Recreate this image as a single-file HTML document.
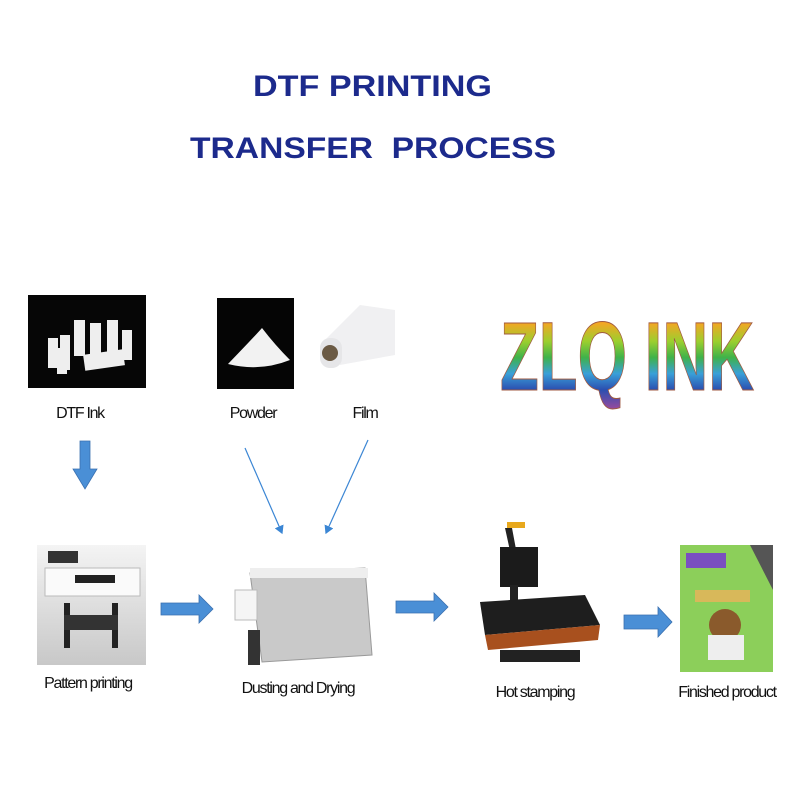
<!DOCTYPE html>
<html><head><meta charset="utf-8"><style>
body{margin:0;background:#fff;}
svg{display:block}
.t{font-family:"Liberation Sans",sans-serif;fill:#1c2a8c;font-size:30px;font-weight:bold}
.l{font-family:"Liberation Sans",sans-serif;fill:#111;font-size:16px;letter-spacing:-1.3px}
</style></head><body>
<svg width="800" height="800" viewBox="0 0 800 800" xmlns="http://www.w3.org/2000/svg">
<defs>
<linearGradient id="rb" x1="0" y1="0" x2="0" y2="1">
<stop offset="0" stop-color="#e8452a"/><stop offset="0.18" stop-color="#f4a623"/><stop offset="0.35" stop-color="#9ccf2e"/><stop offset="0.5" stop-color="#3fb24a"/><stop offset="0.65" stop-color="#3aa0d8"/><stop offset="0.8" stop-color="#2b4fb0"/><stop offset="1" stop-color="#a44a9c"/>
</linearGradient>
<linearGradient id="gr" x1="0" y1="0" x2="0" y2="1"><stop offset="0" stop-color="#f4f4f4"/><stop offset="1" stop-color="#c8c8c8"/></linearGradient>
<marker id="ah" markerWidth="8" markerHeight="8" refX="6" refY="4" orient="auto"><path d="M0,0 L7,4 L0,8 z" fill="#3b86d4"/></marker>
</defs>
<text class="t" x="253" y="96" textLength="239" lengthAdjust="spacingAndGlyphs">DTF PRINTING</text>
<text class="t" x="190" y="158" textLength="366" lengthAdjust="spacingAndGlyphs" xml:space="preserve">TRANSFER  PROCESS</text>

<!-- DTF ink -->
<rect x="28" y="295" width="118" height="93" fill="#060606"/>
<g fill="#eee">
<rect x="48" y="338" width="10" height="30"/><rect x="60" y="335" width="10" height="35"/><rect x="74" y="320" width="11" height="36"/><rect x="90" y="323" width="11" height="35"/><rect x="107" y="320" width="11" height="38"/><rect x="122" y="330" width="10" height="30"/><rect x="57" y="348" width="10" height="26"/><rect x="84" y="352" width="40" height="16" transform="rotate(-8 104 360)"/>
</g>
<text class="l" x="80" y="418" text-anchor="middle">DTF Ink</text>

<!-- Powder -->
<rect x="217" y="298" width="77" height="91" fill="#050505"/>
<path d="M228,364 Q255,336 262,328 Q275,345 290,360 Q260,372 228,364z" fill="#f2f2f2"/>
<text class="l" x="253" y="418" text-anchor="middle">Powder</text>

<!-- Film -->
<path d="M325,340 L360,305 L395,310 L395,355 L340,365z" fill="#f0f0f2"/>
<rect x="320" y="338" width="22" height="30" rx="10" fill="#e6e6e8"/>
<circle cx="330" cy="353" r="8" fill="#6b5a44"/>
<text class="l" x="365" y="418" text-anchor="middle">Film</text>

<!-- ZLQ INK -->
<text x="0" y="0" transform="translate(500,390) scale(0.655,1)" font-family="Liberation Sans,sans-serif" font-weight="bold" font-size="97" fill="url(#rb)" stroke="#a05a40" stroke-width="1">ZLQ INK</text>

<!-- arrows -->
<path d="M80,441 h10 v28 h7 l-12,20 l-12,-20 h7z" fill="#4a8fd6" stroke="#3a70b0" stroke-width="0.8"/>
<line x1="245" y1="448" x2="282" y2="533" stroke="#3b86d4" stroke-width="1.2" marker-end="url(#ah)"/>
<line x1="368" y1="440" x2="326" y2="533" stroke="#3b86d4" stroke-width="1.2" marker-end="url(#ah)"/>
<g fill="#4a8fd6" stroke="#3a70b0" stroke-width="0.8">
<path d="M161,603 h38 v-8 l14,14 l-14,14 v-8 h-38z"/>
<path d="M396,601 h38 v-8 l14,14 l-14,14 v-8 h-38z"/>
<path d="M624,615 h34 v-8 l14,15 l-14,15 v-8 h-34z"/>
</g>

<!-- printer -->
<rect x="37" y="545" width="109" height="120" fill="url(#gr)"/>
<rect x="45" y="568" width="95" height="28" fill="#fafafa" stroke="#bbb"/>
<rect x="48" y="551" width="30" height="12" fill="#333"/>
<rect x="75" y="575" width="40" height="8" fill="#222"/>
<rect x="64" y="603" width="6" height="45" fill="#222"/><rect x="112" y="603" width="6" height="45" fill="#222"/>
<rect x="64" y="615" width="54" height="15" fill="#333"/>
<text class="l" x="88" y="688" text-anchor="middle">Pattern printing</text>

<!-- dryer -->
<path d="M250,573 L365,568 L372,655 L262,662z" fill="#c9c9c9" stroke="#999"/>
<rect x="250" y="568" width="118" height="10" fill="#eee"/>
<rect x="235" y="590" width="22" height="30" fill="#f5f5f5" stroke="#bbb"/>
<rect x="248" y="630" width="12" height="35" fill="#333"/>
<text class="l" x="298" y="693" text-anchor="middle">Dusting and Drying</text>

<!-- heat press -->
<rect x="507" y="522" width="18" height="6" fill="#e8a81c"/>
<path d="M505,528 L512,560 L518,560 L512,528z" fill="#222"/>
<rect x="500" y="547" width="38" height="40" fill="#1b1b1b"/>
<rect x="510" y="585" width="8" height="25" fill="#222"/>
<path d="M480,602 L585,595 L600,625 L485,635z" fill="#1e1e1e"/>
<path d="M485,635 L600,625 L598,640 L488,650z" fill="#a8501e"/>
<rect x="500" y="650" width="80" height="12" fill="#222"/>
<text class="l" x="535" y="697" text-anchor="middle">Hot stamping</text>

<!-- finished -->
<rect x="680" y="545" width="93" height="127" fill="#8ccf5a"/>
<path d="M750,545 h23 v45z" fill="#555"/>
<rect x="686" y="553" width="40" height="15" fill="#7a4fc0"/>
<rect x="695" y="590" width="55" height="12" fill="#d8b85a"/>
<circle cx="725" cy="625" r="16" fill="#8a5a2c"/>
<rect x="708" y="635" width="36" height="25" fill="#eee"/>
<text class="l" x="727" y="697" text-anchor="middle">Finished product</text>
</svg>
</body></html>
